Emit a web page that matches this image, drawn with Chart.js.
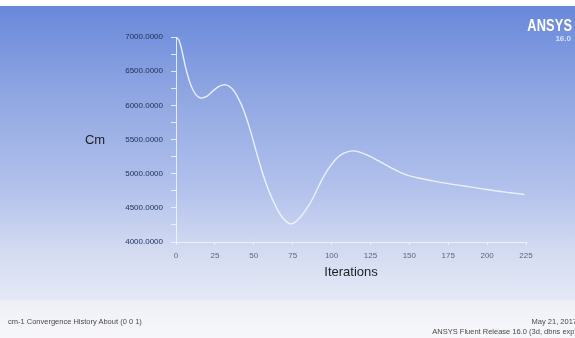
<!DOCTYPE html>
<html>
<head>
<meta charset="utf-8">
<script src="https://cdn.jsdelivr.net/npm/chart.js@4/dist/chart.umd.min.js"></script>
<style>
  html, body { margin: 0; padding: 0; background: #ffffff; }
  #frame {
    position: relative; width: 575px; height: 338px; overflow: hidden;
    background: linear-gradient(to bottom, #ffffff 0px, #ffffff 6px, #6888da 6px, #8ea5e2 90px, #b3c2ec 190px, #d3dbf2 250px, #e5e9f6 300px, #eef0f7 300px, #f7f7fb 338px);
    font-family: "Liberation Sans", Arial, sans-serif;
  }
  #chart { position: absolute; left: 0; top: 0; }
  .logo { position: absolute; right: 3px; top: 18px; text-align: right; color: #ffffff; }
  .logo .name { font-weight: bold; font-size: 16px; line-height: 16px; transform: scaleX(0.8); transform-origin: right center; letter-spacing: 0.2px; }
  .logo .ver { font-size: 8px; line-height: 9px; color: #d7e0f6; margin-right: 1px; font-weight: bold; }
  .foot { position: absolute; font-size: 7.5px; color: #4a4a4a; white-space: nowrap; }
  .foot.left { left: 8px; top: 317px; }
  .foot.right { right: -2px; top: 317px; text-align: right; line-height: 9.5px; }
</style>
</head>
<body>
<div id="frame">
  <canvas id="chart" width="575" height="338"></canvas>
  <div class="logo"><div class="name">ANSYS</div><div class="ver">16.0</div></div>
  <div class="foot left">cm-1 Convergence History About (0 0 1)</div>
  <div class="foot right">May 21, 2017<br>ANSYS Fluent Release 16.0 (3d, dbns exp)</div>
</div>
<script>
// Moment coefficient history
const iterations = [0, 2, 4, 6, 8, 10, 13, 16, 20, 24, 28, 32, 36, 40, 44, 48, 52, 56, 60, 64,
  68, 72, 74, 76, 80, 84, 88, 92, 96, 100, 104, 108, 113, 118, 124, 130, 138, 146, 155, 165,
  175, 185, 195, 205, 215, 224];
const cmValues = [7000, 6950, 6780, 6570, 6400, 6270, 6150, 6108, 6135, 6215, 6280, 6300, 6245, 6105, 5900, 5615,
  5290, 4985, 4730, 4530, 4370, 4280, 4265, 4280, 4365, 4490, 4640, 4830, 5000, 5135,
  5240, 5300, 5333, 5315, 5260, 5190, 5090, 5000, 4940, 4895, 4855, 4820, 4785, 4750, 4720, 4695];
const xTicks = [0, 25, 50, 75, 100, 125, 150, 175, 200, 225];
const yTicks = [4000, 4500, 5000, 5500, 6000, 6500, 7000];
const yMinorStep = 250;

const points = iterations.map((it, i) => ({ x: it, y: cmValues[i] }));

// horizontal axis titles ("Cm" sits level beside the vertical axis)
const axisTitles = {
  id: 'axisTitles',
  afterDraw(chart) {
    const { ctx, chartArea } = chart;
    ctx.save();
    ctx.fillStyle = '#1e1e1e';
    ctx.font = '13px "Liberation Sans", Arial, sans-serif';
    ctx.textAlign = 'center';
    ctx.textBaseline = 'middle';
    ctx.fillText('Iterations', (chartArea.left + chartArea.right) / 2, chartArea.bottom + 30);
    ctx.fillText('Cm', chartArea.left - 81, (chartArea.top + chartArea.bottom) / 2 + 1);
    ctx.restore();
  }
};

new Chart(document.getElementById('chart'), {
  type: 'line',
  data: {
    datasets: [{
      data: points,
      borderColor: 'rgba(240,244,252,0.92)',
      borderWidth: 1.4,
      pointRadius: 0,
      tension: 0.4,
      fill: false
    }]
  },
  options: {
    responsive: false,
    devicePixelRatio: 1,
    animation: false,
    events: [],
    layout: { padding: { left: 0, right: 49, top: 37, bottom: 0 } },
    plugins: { legend: { display: false }, tooltip: { enabled: false } },
    scales: {
      x: {
        type: 'linear',
        min: 0, max: 225,
        afterFit(scale) { scale.height = 96; },
        afterBuildTicks(scale) { scale.ticks = xTicks.map(v => ({ value: v })); },
        border: { display: true, color: 'rgba(240,244,252,0.9)', width: 1 },
        grid: { drawOnChartArea: false, drawTicks: true, tickLength: 3, color: 'rgba(240,244,252,0.9)' },
        ticks: {
          padding: 6,
          color: '#5f6579',
          font: { family: '"Liberation Sans", Arial, sans-serif', size: 8 },
          maxRotation: 0
        }
      },
      y: {
        type: 'linear',
        min: 4000, max: 7000,
        afterFit(scale) { scale.width = 176; },
        afterBuildTicks(scale) {
          const t = [];
          for (let v = yTicks[0]; v <= yTicks[yTicks.length - 1]; v += yMinorStep) t.push({ value: v });
          scale.ticks = t;
        },
        border: { display: true, color: 'rgba(240,244,252,0.9)', width: 1 },
        grid: { drawOnChartArea: false, drawTicks: true, tickLength: 5, color: 'rgba(240,244,252,0.9)' },
        ticks: {
          padding: 8,
          color: '#22305a',
          font: { family: '"Liberation Sans", Arial, sans-serif', size: 8 },
          callback: v => yTicks.includes(v) ? v.toFixed(4) : ''
        }
      }
    }
  },
  plugins: [axisTitles]
});
</script>
</body>
</html>
